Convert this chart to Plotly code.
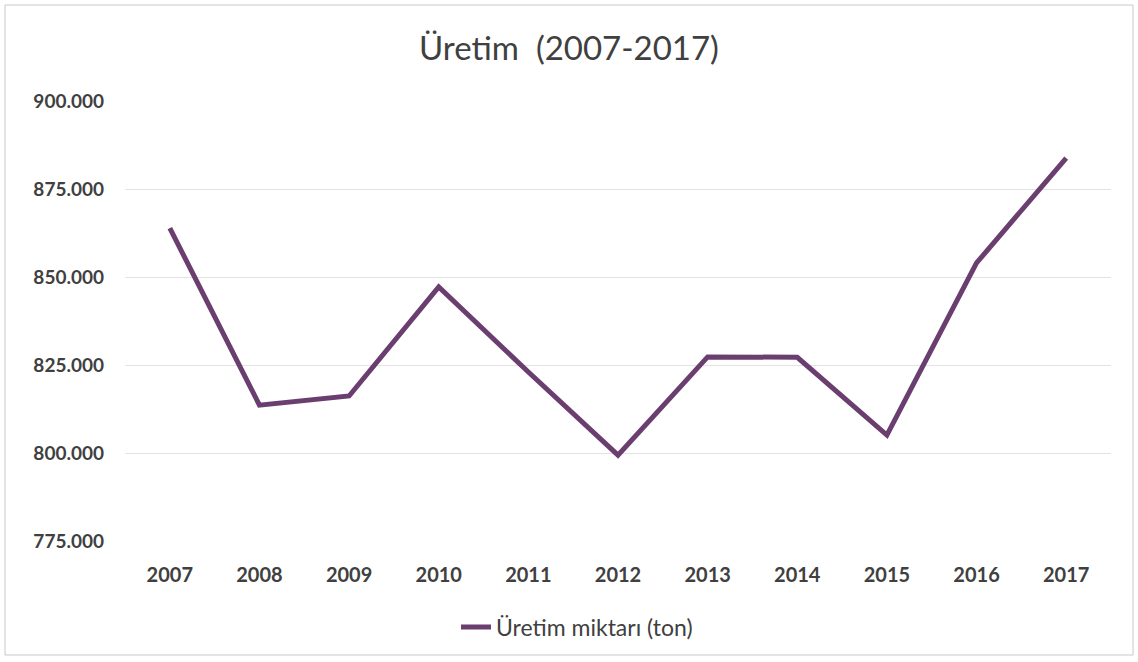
import plotly.graph_objects as go

years = ["2007", "2008", "2009", "2010", "2011", "2012", "2013", "2014", "2015", "2016", "2017"]
production = [863900, 813600, 816200, 847200, 823000, 799400, 827300, 827200, 805100, 854000, 883800]
y_ticks = [775000, 800000, 825000, 850000, 875000, 900000]
series_name = "Üretim miktarı (ton)"
title_text = "Üretim  (2007-2017)"

fig = go.Figure()
fig.add_trace(go.Scatter(
    x=years, y=production, mode="lines", name=series_name,
    line=dict(color="#6b3e70", width=5),
))

font_family = "Lato, 'Open Sans', sans-serif"
fig.update_layout(
    width=1138, height=662,
    paper_bgcolor="white", plot_bgcolor="white",
    separators=",.",
    margin=dict(l=125, r=27, t=101, b=121),
    title=dict(text=title_text, x=0.5, xref="container", xanchor="center",
               y=1 - 48 / 662, yref="container", yanchor="middle",
               font=dict(family=font_family, size=33, color="#404040")),
    showlegend=True,
    legend=dict(orientation="h", x=0.5 + 8 / 1138, xref="container", xanchor="center",
                y=1 - 627 / 662, yref="container", yanchor="middle",
                font=dict(family=font_family, size=23, color="#404040")),
    font=dict(family=font_family),
)

fig.update_xaxes(type="category", range=[-0.5, 10.5], showgrid=False, showline=False, ticks="",
                 tickfont=dict(family=font_family, size=20, color="#404040", weight="bold"),
                 ticklabelstandoff=20)
fig.update_yaxes(range=[775000, 900000], tickvals=y_ticks, tickformat=",d",
                 showgrid=True, gridcolor="#e3e3e3", gridwidth=1, zeroline=False, showline=False,
                 tickfont=dict(family=font_family, size=19, color="#404040", weight="bold"),
                 ticklabelstandoff=20)

fig.add_shape(type="rect", xref="paper", yref="paper",
              x0=-120 / 986, x1=1 + 22 / 986, y0=-114 / 440, y1=1 + 96 / 440,
              line=dict(color="#c8c8c8", width=1), fillcolor="rgba(0,0,0,0)", layer="below")

fig.write_html("out.html", config={"displayModeBar": False},
               post_script="document.body.style.margin='0';")
